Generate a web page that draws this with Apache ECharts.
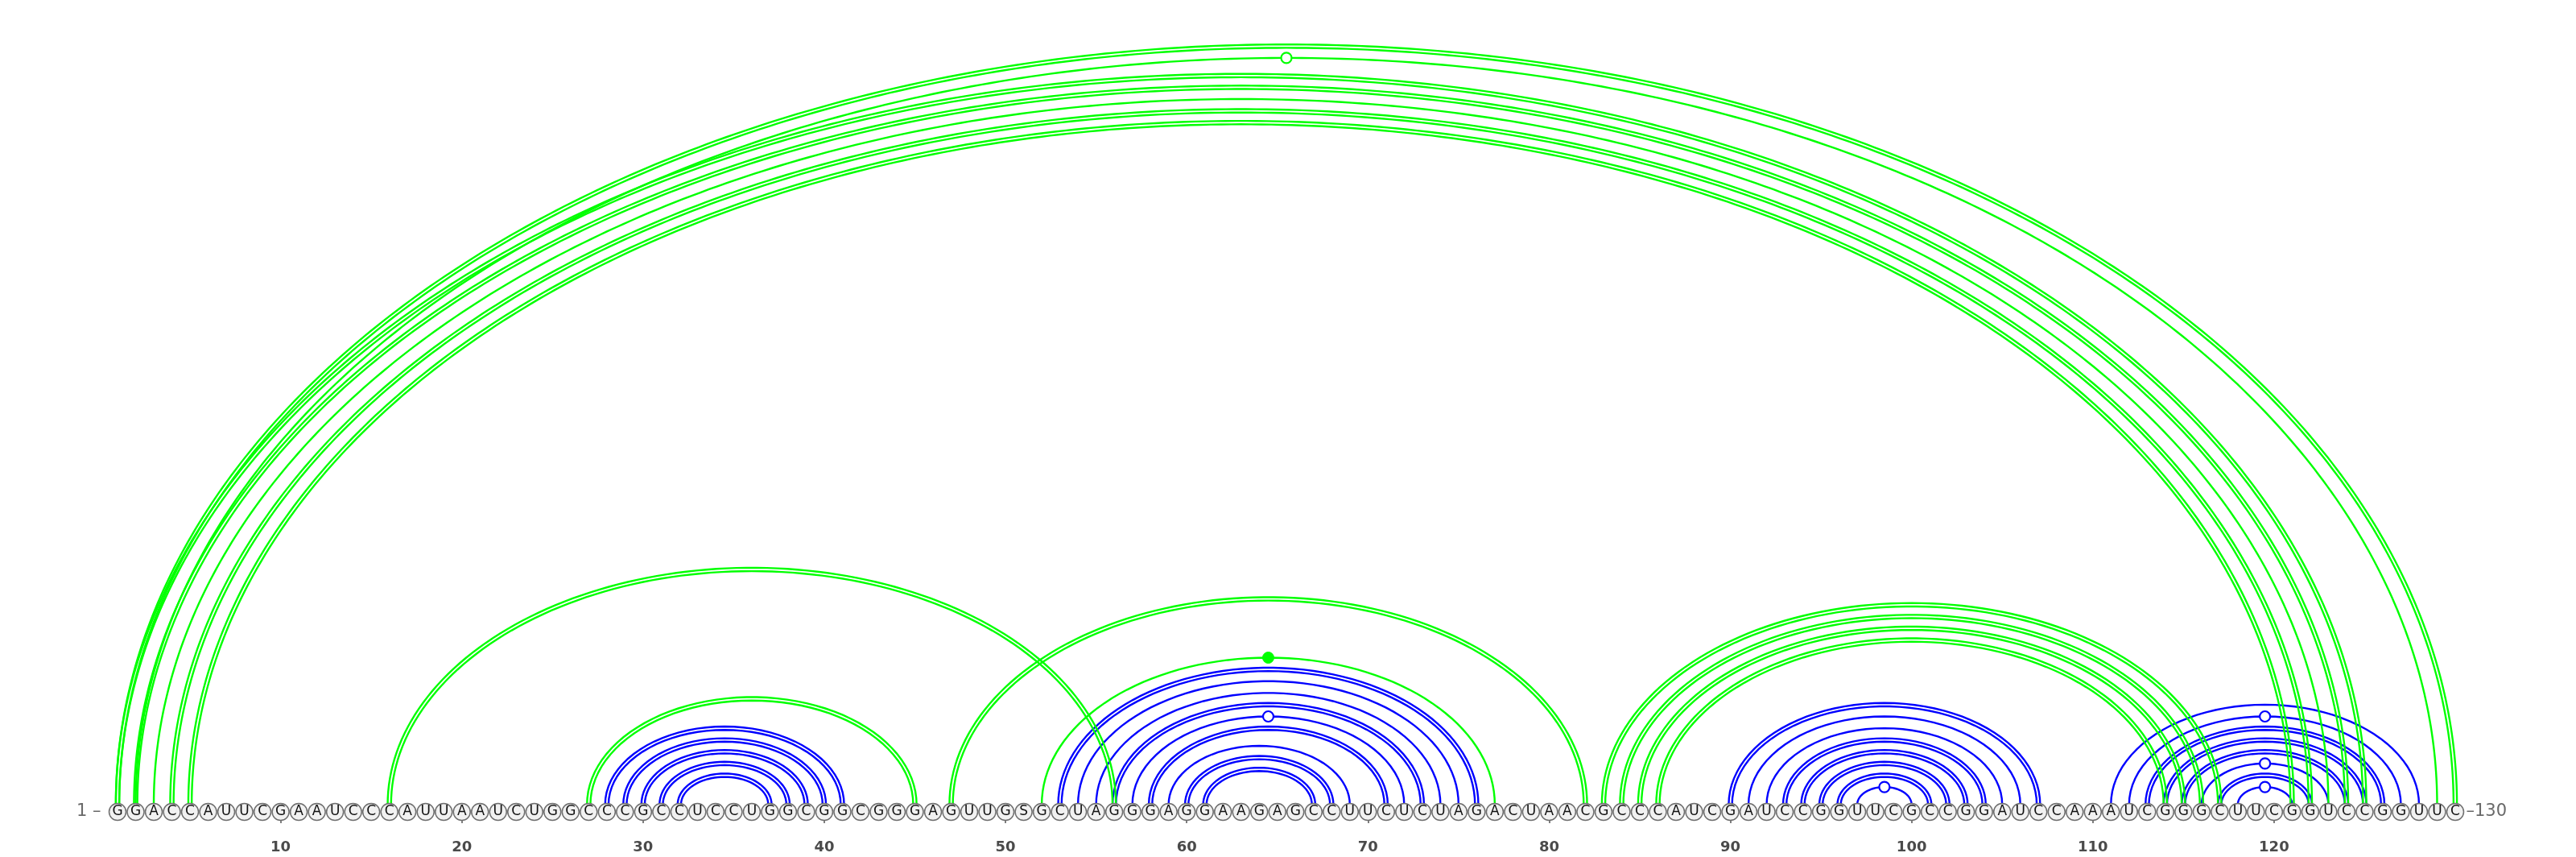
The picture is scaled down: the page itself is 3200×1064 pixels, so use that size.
<!DOCTYPE html>
<html>
<head>
<meta charset="utf-8">
<script src="https://cdn.jsdelivr.net/npm/echarts@6/dist/echarts.min.js"></script>
<style>
  html, body { margin: 0; padding: 0; background: #fff; }
  #chart-container { width: 3200px; height: 1064px; }
</style>
</head>
<body>
<div id="chart-container"></div>
<script>
// sequence, written in blocks of ten
var seqBlocks = [
  "GGACCAUUCG", "AAUCCCAUUA", "AUCUGGCCCG", "CCUCCUGGCG", "GCGGGAGUUG",
  "SGCUAGGGAG", "GAAGAGCCUU", "CUCUAGACUA", "ACGCCCAUCG", "AUCCGGUUCG",
  "CCGGAUCCAA", "AUCGGGCUUC", "GGUCCGGUUC"
];
var sequence = seqBlocks.join("");

// base pairs [i, j] (1-based)
var greenPairs = [
  [1, 130], [2, 129],
  [1, 125], [2, 124], [3, 123], [4, 122], [5, 121],
  [16, 56], [27, 45], [47, 82], [52, 77],
  [83, 117], [84, 116], [85, 115], [86, 114]
];
var bluePairs = [
  [28, 41], [29, 40], [30, 39], [31, 38], [32, 37],
  [53, 76], [54, 75], [55, 74], [56, 73], [57, 72], [58, 71], [59, 69], [60, 68], [61, 67],
  [90, 107], [91, 106], [92, 105], [93, 104], [94, 103], [95, 102], [96, 101], [97, 100],
  [111, 128], [112, 127], [113, 126], [114, 125], [115, 124], [116, 123], [117, 122], [118, 121]
];
var tickValues = [10, 20, 30, 40, 50, 60, 70, 80, 90, 100, 110, 120];

var ARC_BASE = 9;     // arcs start just above the nucleotide circles
var ARC_RISE = 7.3;   // arc height per nucleotide of span
var GAP = 2.1;        // half distance between the two strokes of a G-C pair

function pairKind(i, j) {
  var s = sequence[i - 1] + sequence[j - 1];
  if (s === "GC" || s === "CG") return "double";
  if (s === "AU" || s === "UA") return "single";
  if (s === "GU" || s === "UG") return "wobble";
  return "other";
}

function ellipse(cx, cy, a, b) {
  var pts = [];
  var n = Math.max(40, Math.round(a / 4));
  for (var k = 0; k <= n; k++) {
    var t = Math.PI - (Math.PI * k) / n;
    pts.push([cx + a * Math.cos(t), cy - b * Math.sin(t)]);
  }
  return pts;
}

function arcRenderer(color) {
  return function (params, api) {
    var i = api.value(0), j = api.value(1);
    var span = j - i;
    var c = api.coord([(i + j) / 2, ARC_BASE]);
    var e = api.coord([j, ARC_BASE + span * ARC_RISE]);
    var a = e[0] - c[0];
    var b = c[1] - e[1];
    var kind = pairKind(i, j);
    var children = [];
    var style = { stroke: color, lineWidth: 2.4, fill: null };
    if (kind === "double") {
      children.push({ type: "polyline", shape: { points: ellipse(c[0], c[1], a - GAP, b - GAP) }, style: style });
      children.push({ type: "polyline", shape: { points: ellipse(c[0], c[1], a + GAP, b + GAP) }, style: style });
    } else {
      children.push({ type: "polyline", shape: { points: ellipse(c[0], c[1], a, b) }, style: style });
      if (kind === "wobble") {
        children.push({ type: "circle", shape: { cx: c[0], cy: c[1] - b, r: 6.5 },
          style: { fill: "#fff", stroke: color, lineWidth: 2.2 } });
      } else if (kind === "other") {
        children.push({ type: "circle", shape: { cx: c[0], cy: c[1] - b, r: 7 },
          style: { fill: color, stroke: color, lineWidth: 1 } });
      }
    }
    return { type: "group", children: children };
  };
}

var nucleotides = sequence.split("").map(function (ch, k) {
  return [k + 1, 0, ch];
});

var dom = document.getElementById("chart-container");
var myChart = echarts.init(dom, null, { renderer: "canvas" });

var option = {
  animation: false,
  grid: { left: 146, right: 150, top: 0, bottom: 41 },
  xAxis: {
    type: "value",
    min: 1,
    max: 130,
    axisLine: { show: false },
    splitLine: { show: false },
    axisTick: {
      show: true,
      customValues: tickValues,
      length: 14,
      lineStyle: { color: "#555", width: 1.5 }
    },
    axisLabel: {
      show: true,
      customValues: tickValues,
      margin: 20,
      fontFamily: "DejaVu Sans",
      fontSize: 18,
      fontWeight: "bold",
      color: "#4a4a4a"
    }
  },
  yAxis: {
    type: "value",
    min: -15,
    max: 1008,
    show: false
  },
  series: [
    {
      type: "custom",
      name: "blue",
      z: 2,
      clip: false,
      renderItem: arcRenderer("#0000ff"),
      data: bluePairs
    },
    {
      type: "custom",
      name: "green",
      z: 3,
      clip: false,
      renderItem: arcRenderer("#00ff00"),
      data: greenPairs
    },
    {
      type: "scatter",
      name: "sequence",
      z: 5,
      symbol: "circle",
      symbolSize: 21,
      clip: false,
      itemStyle: { color: "#f1f1f1", borderColor: "#6e6e6e", borderWidth: 1.5, opacity: 1 },
      label: {
        show: true,
        position: "inside",
        formatter: function (p) { return p.value[2]; },
        fontFamily: "DejaVu Sans",
        fontSize: 17,
        color: "#111"
      },
      emphasis: { disabled: true },
      data: nucleotides
    },
    {
      type: "scatter",
      name: "ends",
      z: 5,
      symbolSize: 21,
      clip: false,
      itemStyle: { color: "rgba(0,0,0,0)" },
      label: {
        show: true,
        fontFamily: "DejaVu Sans",
        fontSize: 21,
        color: "#444",
        formatter: function (p) { return p.value[2]; }
      },
      data: [
        { value: [1, 0, "1 \u2013"], label: { position: "left", distance: 10 } },
        { value: [130, 0, "\u2013130"], label: { position: "right", distance: 3 } }
      ]
    }
  ]
};

myChart.setOption(option);

window.addEventListener("resize", function () {
  myChart.resize();
});
</script>
</body>
</html>
